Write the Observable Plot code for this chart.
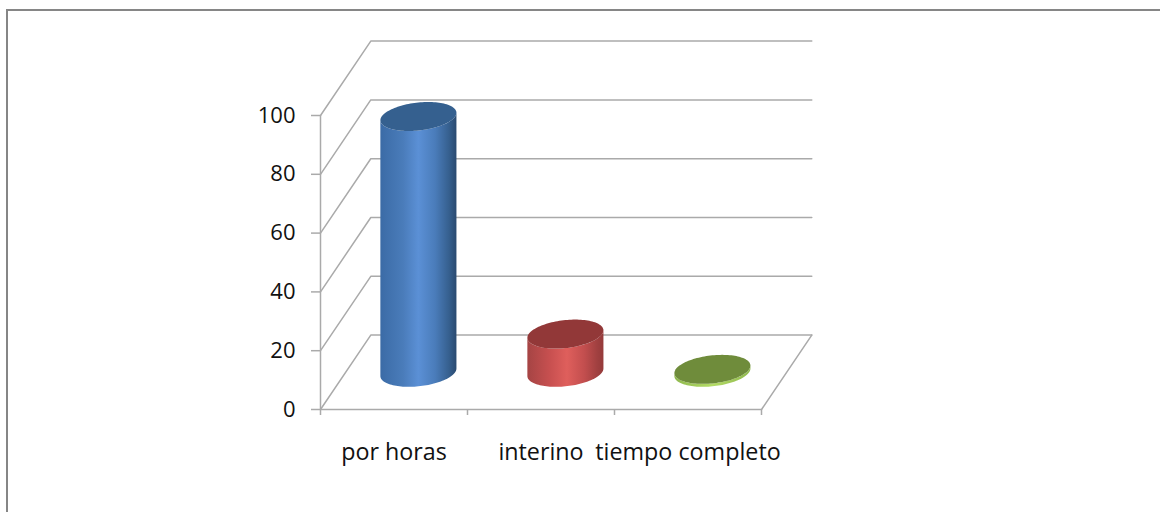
<!DOCTYPE html>
<html>
<head>
<meta charset="utf-8">
<script src="https://cdn.jsdelivr.net/npm/d3@7"></script>
<script src="https://cdn.jsdelivr.net/npm/@observablehq/plot@0.6"></script>
<style>
html,body{margin:0;padding:0;background:#fff;overflow:hidden;width:1160px;height:512px}
#frame{position:absolute;left:6px;top:9px;width:1200px;height:600px;border-left:2px solid #868686;border-top:2px solid #868686}
#chart{position:absolute;left:0;top:0}
</style>
</head>
<body>
<div id="frame"></div>
<div id="chart"></div>
<script>
const categories = ["por horas", "interino", "tiempo completo"];
const values = [87, 13, 1];
const yTicks = [0, 20, 40, 60, 80, 100];
const topColors = ["#35608f", "#923838", "#6f8c3b"];
const gradientStops = [
  [["0", "#3b6ba6"], ["0.3", "#4a7cba"], ["0.5", "#5b90d6"], ["0.72", "#4a7cba"], ["0.9", "#36608f"], ["1", "#2a4a70"]],
  [["0", "#a54444"], ["0.3", "#c85050"], ["0.52", "#df5f5c"], ["0.75", "#c24e4e"], ["0.92", "#a04040"], ["1", "#953a3a"]],
  [["0", "#8fb84e"], ["0.5", "#b4dc66"], ["1", "#8fb84e"]]
];

// oblique projection parameters, in data units
const depthX = 0.342, depthY = 25.3;
const radiusX = 0.25, radiusDepth = 0.195;
const centre = 0.495;
const proj = (x, v, d) => ({x: x + d * depthX, y: v + d * depthY});
const grey = "#aaaaaa";

const angles = d3.range(0, 121).map(i => i / 120 * 2 * Math.PI);
const rim = (i, v) => angles.map(t => proj(i + centre + radiusX * Math.cos(t), v, 0.5 + radiusDepth * Math.sin(t)));

function body(i, v) {
  const ext = Math.atan2(radiusDepth * depthX, radiusX);
  const arc = d3.range(0, 61).map(k => ext + Math.PI + k / 60 * Math.PI)
    .map(t => proj(i + centre + radiusX * Math.cos(t), 0, 0.5 + radiusDepth * Math.sin(t)));
  const up = d3.range(60, -1, -1).map(k => ext + Math.PI + k / 60 * Math.PI)
    .map(t => proj(i + centre + radiusX * Math.cos(t), v, 0.5 + radiusDepth * Math.sin(t)));
  return arc.concat(up);
}

const marks = [];
const strokeOpts = {x: "x", y: "y", stroke: grey, strokeWidth: 1.5};

for (const t of yTicks) {
  marks.push(Plot.line([proj(0, t, 0), proj(0, t, 1), proj(3, t, 1)], strokeOpts));
}
marks.push(Plot.line([proj(0, 0, 0), proj(3, 0, 0), proj(3, 0, 1)], strokeOpts));

marks.push(Plot.axisY({ticks: yTicks, tickSize: 9, tickPadding: 16, stroke: grey, strokeWidth: 1.5,
  fontSize: 22, fill: "#111", label: null}));
marks.push(Plot.ruleX([0], {y1: 0, y2: 100, stroke: grey, strokeWidth: 1.5}));
marks.push(Plot.axisX({ticks: [0, 1, 2, 3], tickSize: 6, tickFormat: () => "", stroke: grey, strokeWidth: 1.5, label: null}));
marks.push(Plot.axisX({ticks: categories.map((c, i) => i + 0.5), tickSize: 0, tickPadding: 34,
  tickFormat: (d, i) => categories[i], fontSize: 23.3, fill: "#111", label: null}));

values.forEach((v, i) => {
  marks.push(Plot.line(body(i, v), {x: "x", y: "y", fill: `url(#cyl${i})`, stroke: "none"}));
  marks.push(Plot.line(rim(i, v), {x: "x", y: "y", fill: topColors[i], stroke: "none"}));
});

marks.push(() => {
  const ns = "http://www.w3.org/2000/svg";
  const defs = document.createElementNS(ns, "defs");
  gradientStops.forEach((stops, i) => {
    const g = document.createElementNS(ns, "linearGradient");
    g.setAttribute("id", `cyl${i}`);
    for (const [o, c] of stops) {
      const s = document.createElementNS(ns, "stop");
      s.setAttribute("offset", o);
      s.setAttribute("stop-color", c);
      g.appendChild(s);
    }
    defs.appendChild(g);
  });
  return defs;
});

const chart = Plot.plot({
  width: 1160, height: 512,
  marginLeft: 320, marginRight: 399, marginTop: 115, marginBottom: 103,
  style: {fontFamily: "'Open Sans'", background: "transparent", overflow: "visible"},
  x: {type: "linear", domain: [0, 3], axis: null},
  y: {type: "linear", domain: [0, 100], axis: null},
  marks
});
document.getElementById("chart").appendChild(chart);
</script>
</body>
</html>
